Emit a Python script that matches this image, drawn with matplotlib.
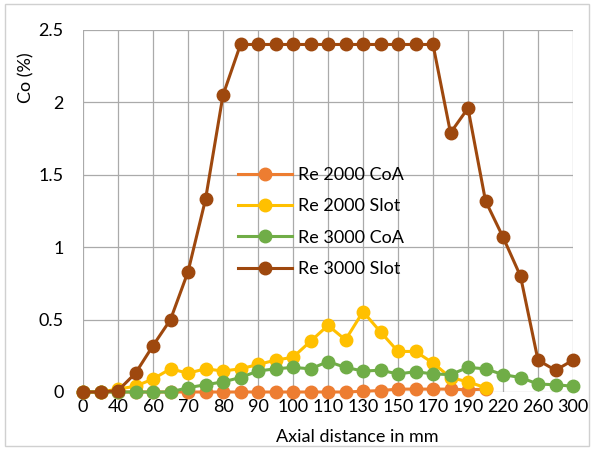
import matplotlib
matplotlib.use("Agg")
import matplotlib.pyplot as plt
from matplotlib.patches import Rectangle

plt.rcParams['font.family'] = ['Lato', 'DejaVu Sans']

# axial distance categories (Excel category axis, every other one labelled)
categories = [0, 20, 40, 50, 60, 65, 70, 75, 80, 85, 90, 95, 100, 105, 110,
              120, 130, 140, 150, 160, 170, 180, 190, 200, 220, 240, 260, 280, 300]

re2000_coa = [0, 0, 0, 0, 0, 0, 0, 0, 0, 0, 0, 0, 0, 0, 0,
              0, 0.005, 0.01, 0.02, 0.02, 0.02, 0.02, 0.015, 0.02]
re2000_slot = [0, 0, 0.02, 0.04, 0.09, 0.16, 0.13, 0.16, 0.145, 0.16, 0.19, 0.22,
               0.24, 0.35, 0.46, 0.36, 0.555, 0.415, 0.28, 0.28, 0.2, 0.1, 0.07, 0.03]
re3000_coa = [0, 0, 0, 0, 0, 0, 0.03, 0.05, 0.07, 0.1, 0.145, 0.16, 0.17, 0.16, 0.21,
              0.17, 0.145, 0.15, 0.125, 0.14, 0.125, 0.12, 0.17, 0.16, 0.12, 0.1,
              0.055, 0.05, 0.04]
re3000_slot = [0, 0, 0.01, 0.13, 0.32, 0.5, 0.83, 1.33, 2.05, 2.4, 2.4, 2.4, 2.4, 2.4,
               2.4, 2.4, 2.4, 2.4, 2.4, 2.4, 2.4, 1.79, 1.96, 1.32, 1.07, 0.8, 0.22,
               0.15, 0.22]

series = [
    ('Re 2000 CoA', re2000_coa, '#ED7D31'),
    ('Re 2000 Slot', re2000_slot, '#FFC000'),
    ('Re 3000 CoA', re3000_coa, '#70AD47'),
    ('Re 3000 Slot', re3000_slot, '#9E480E'),
]

fig = plt.figure(figsize=(5.94, 4.5), dpi=100)
fig.patches.append(Rectangle((0.008, 0.008), 0.984, 0.984, transform=fig.transFigure,
                             fill=False, edgecolor='#D0D0D0', linewidth=1))
ax = fig.add_axes([83 / 594, 1 - 392 / 450, 490 / 594, 362 / 450])

for name, vals, col in series:
    ax.plot(range(len(vals)), vals, color=col, linewidth=2.2, marker='o',
            markersize=9, label=name, clip_on=False)

ax.set_xlim(0, len(categories) - 1)
ax.set_ylim(0, 2.5)
ax.set_xticks(range(0, len(categories), 2))
ax.set_xticklabels([str(c) for c in categories[::2]])
ax.set_yticks([0, 0.5, 1, 1.5, 2, 2.5])
ax.set_yticklabels(['0', '0.5', '1', '1.5', '2', '2.5'])
ax.tick_params(axis='both', length=0, labelsize=13)
ax.tick_params(axis='y', pad=14)
ax.tick_params(axis='x', pad=5)

ax.grid(True, color='#AAAAAA', linewidth=0.9)
ax.set_axisbelow(True)
for s in ax.spines.values():
    s.set_visible(False)

ax.set_ylabel('Co (%)', fontsize=13)
ax.yaxis.set_label_coords(-0.1, 0.867)
ax.set_xlabel('Axial distance in mm', fontsize=13)
ax.xaxis.set_label_coords(0.56, -0.103)

ax.legend(loc='upper left', bbox_to_anchor=(238 / 594, 1 - 167 / 450),
          bbox_transform=fig.transFigure, frameon=False, fontsize=13,
          borderpad=0, borderaxespad=0, handlelength=3, handletextpad=0.3,
          labelspacing=0.85)

fig.savefig('out.png', dpi=100)
